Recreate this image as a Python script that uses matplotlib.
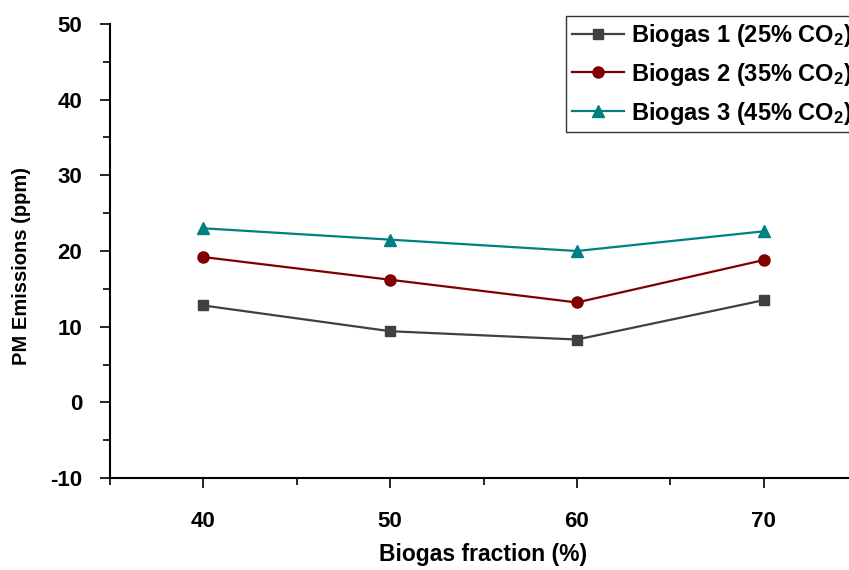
import matplotlib.pyplot as plt
from matplotlib.ticker import MultipleLocator

plt.rcParams['font.family'] = ['Liberation Sans', 'DejaVu Sans']
plt.rcParams['font.weight'] = 'bold'
plt.rcParams['axes.unicode_minus'] = False

fractions = [40, 50, 60, 70]
biogas1 = [12.8, 9.4, 8.3, 13.5]
biogas2 = [19.2, 16.2, 13.2, 18.8]
biogas3 = [23.0, 21.5, 20.0, 22.6]

labels = [r'Biogas 1 (25% $\mathregular{CO_2}$)',
          r'Biogas 2 (35% $\mathregular{CO_2}$)',
          r'Biogas 3 (45% $\mathregular{CO_2}$)']

fig = plt.figure(figsize=(8.49, 5.70), dpi=100)
ax = fig.add_axes([0.1296, 0.1614, 0.8798, 0.7965])

ax.plot(fractions, biogas1, marker='s', color='#404040', lw=1.6, ms=7, label=labels[0])
ax.plot(fractions, biogas2, marker='o', color='#800000', lw=1.6, ms=8, label=labels[1])
ax.plot(fractions, biogas3, marker='^', color='#008080', lw=1.6, ms=8.5, label=labels[2])

ax.set_xlim(35, 75)
ax.set_ylim(-10, 50)
ax.xaxis.set_major_locator(MultipleLocator(10))
ax.xaxis.set_minor_locator(MultipleLocator(5))
ax.yaxis.set_major_locator(MultipleLocator(10))
ax.yaxis.set_minor_locator(MultipleLocator(5))
ax.tick_params(which='both', direction='out', width=1.2, labelsize=16)
ax.tick_params(which='major', length=7)
ax.tick_params(which='minor', length=5)
ax.tick_params(axis='x', pad=17)
ax.tick_params(axis='y', pad=13)

for s in ['top', 'right']:
    ax.spines[s].set_visible(False)
for s in ['left', 'bottom']:
    ax.spines[s].set_linewidth(1.5)

ax.set_xlabel('Biogas fraction (%)', fontsize=16.5, fontweight='bold', labelpad=8)
ax.set_ylabel('PM Emissions (ppm)', fontsize=14.5, fontweight='bold')
ax.yaxis.set_label_coords(-0.106, 0.466)

leg = fig.legend(loc='upper left', bbox_to_anchor=(566 / 849, 1 - 16 / 570),
                 fontsize=17, frameon=True, fancybox=False, edgecolor='black',
                 handlelength=2.2, borderpad=0.25, labelspacing=0.5, handletextpad=0.3,
                 borderaxespad=0)
leg.get_frame().set_linewidth(1.0)

fig.savefig('out.png', dpi=100)
